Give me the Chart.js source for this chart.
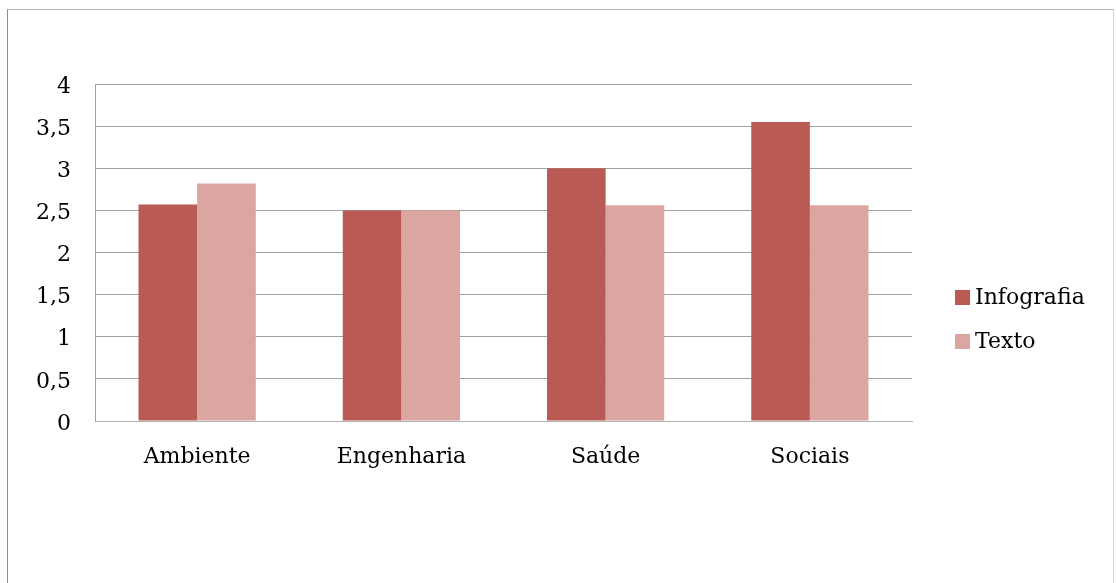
<!DOCTYPE html>
<html>
<head>
<meta charset="utf-8">
<script src="https://cdn.jsdelivr.net/npm/chart.js@4/dist/chart.umd.min.js"></script>
<style>
  html, body { margin: 0; padding: 0; background: #ffffff; }
  #wrap { position: relative; width: 1116px; height: 583px; overflow: hidden; }
  #frame {
    position: absolute; left: 7px; top: 9px; width: 1107px; height: 600px;
    border-top: 1px solid #b4b4b4; border-left: 1px solid #8c8c8c; border-right: 1px solid #d4d4d4;
    box-sizing: border-box;
  }
  #c { position: absolute; left: 0; top: 0; }
</style>
</head>
<body>
<div id="wrap">
  <div id="frame"></div>
  <canvas id="c" width="1116" height="583"></canvas>
</div>
<script>
// Categories and series values
const categories = ['Ambiente', 'Engenharia', 'Saúde', 'Sociais'];
const infografia = [2.57, 2.5, 3.0, 3.55];
const texto = [2.82, 2.5, 2.56, 2.56];
const seriesNames = ['Infografia', 'Texto'];
const seriesColors = ['#b95b54', '#dba6a2'];

// Y axis: 0 to 4 in steps of 0,5
const yMin = 0;
const yMax = 4;
const yStep = 0.5;

const FONT = "'DejaVu Serif', serif";
const FONT_SIZE = 22;

// Right-side legend drawn from the chart's own legend items
const sideLegend = {
  id: 'sideLegend',
  afterDraw(chart) {
    const ctx = chart.ctx;
    const items = chart.options.plugins.legend.labels.generateLabels(chart);
    ctx.save();
    ctx.font = FONT_SIZE + 'px ' + FONT;
    ctx.textBaseline = 'middle';
    ctx.textAlign = 'left';
    items.forEach((it, i) => {
      const cy = 298 + i * 44;
      ctx.fillStyle = it.fillStyle;
      ctx.fillRect(955, cy - 8, 15, 15);
      ctx.fillStyle = '#000000';
      ctx.fillText(it.text, 975, cy);
    });
    ctx.restore();
  }
};

new Chart(document.getElementById('c'), {
  type: 'bar',
  data: {
    labels: categories,
    datasets: [
      { label: seriesNames[0], data: infografia, backgroundColor: seriesColors[0], borderWidth: 0 },
      { label: seriesNames[1], data: texto, backgroundColor: seriesColors[1], borderWidth: 0 }
    ]
  },
  options: {
    responsive: false,
    animation: false,
    devicePixelRatio: 1,
    layout: { padding: { top: 84, right: 204, bottom: 0, left: 0 } },
    datasets: { bar: { categoryPercentage: 0.574, barPercentage: 1.0 } },
    plugins: {
      legend: { display: false },
      tooltip: { enabled: false },
      title: { display: false }
    },
    scales: {
      x: {
        grid: { display: false, drawTicks: false },
        border: { display: true, color: '#b0b0b0', width: 1 },
        ticks: { color: '#000000', font: { family: FONT, size: FONT_SIZE }, padding: 23 },
        afterFit(scale) { scale.height = 162; }
      },
      y: {
        min: yMin,
        max: yMax,
        grid: { color: '#a0a0a0', lineWidth: 1, drawTicks: false },
        border: { display: true, color: '#a0a0a0', width: 1 },
        ticks: {
          stepSize: yStep,
          color: '#000000',
          font: { family: FONT, size: FONT_SIZE },
          padding: 24,
          labelOffset: 3,
          callback: (v) => String(v).replace('.', ',')
        },
        afterFit(scale) { scale.width = 95; }
      }
    }
  },
  plugins: [sideLegend]
});
</script>
</body>
</html>
